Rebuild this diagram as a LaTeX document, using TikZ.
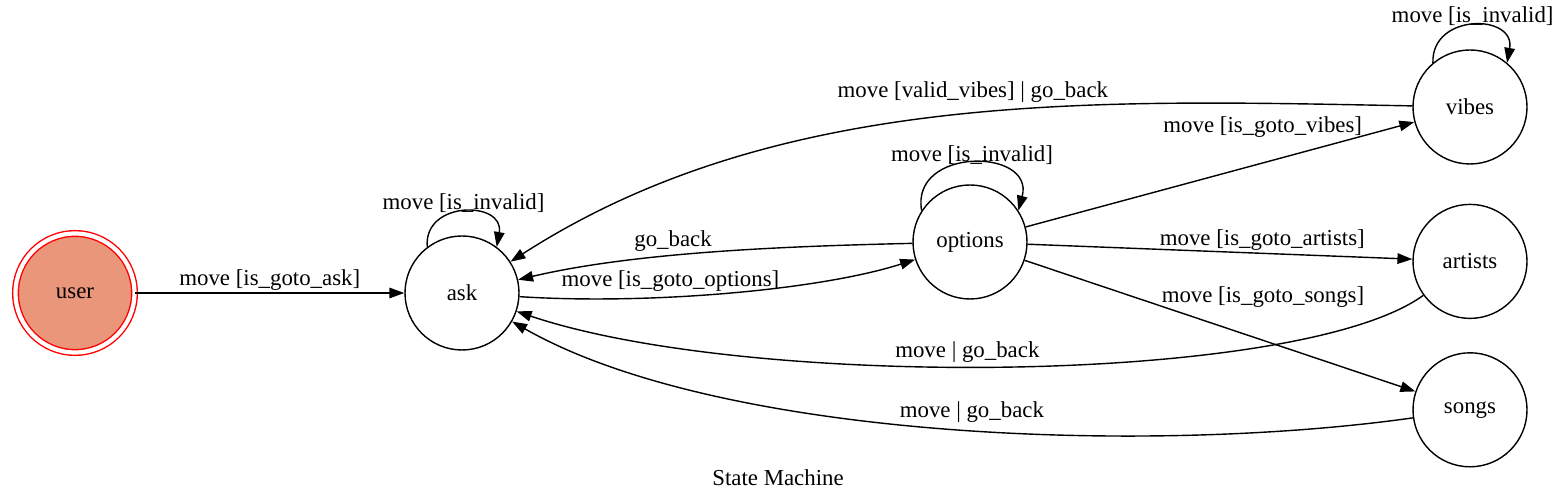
\documentclass[tikz,border=0pt]{standalone}
\usepackage{fontspec}
\setmainfont{Liberation Serif}
\usetikzlibrary{positioning,arrows.meta}
\definecolor{darksalmon}{HTML}{E9967A}

\begin{document}
\begin{tikzpicture}[
  state/.style={circle, draw, minimum size=2.28cm, inner sep=0pt},
  initstate/.style={state, draw=red, fill=darksalmon, double=white,
    double distance=2.4pt, minimum size=2.38cm},
  every node/.style={font=\fontsize{13}{15}\selectfont},
  lbl/.style={inner sep=1pt},
  >={Triangle[length=8.5pt,width=6pt]},
  line width=0.8pt,
]
  \useasboundingbox (0,0) rectangle (31.12,10);

  % States
  \node[initstate] (user) at (1.50,4.14) {user};
  \node[state] (ask) at (9.24,4.14) {ask};
  \node[state] (options) at (19.40,5.16) {options};
  \node[state] (vibes) at (29.40,7.86) {vibes};
  \node[state, below=0.78cm of vibes] (artists) {artists};
  \node[state, below=0.66cm of artists] (songs) {songs};
  \node (title) at (15.56,0.44) {State Machine};

  % Self loops
  \draw[->] (ask.127) to[out=95,in=80,distance=0.94cm] node[lbl,above=-1.5pt]{move [is\_invalid]} (ask.53);
  \draw[->] (options.147) to[out=100,in=75,distance=1.3cm] node[lbl,above=-2pt]{move [is\_invalid]} (options.33);
  \draw[->] (vibes.130) to[out=92,in=80,distance=1cm] node[lbl,above=-1.5pt]{move [is\_invalid]} (vibes.50);

  % Transitions
  \draw[->] (user) -- node[lbl,above]{move [is\_goto\_ask]} (ask);
  \draw[->] (ask) .. controls (13.00,3.90) and (16.40,4.20) .. (options)
    node[lbl,pos=0.36,above=2pt]{move [is\_goto\_options]};
  \draw[->] (options) .. controls (16.00,5.08) and (12.80,4.98) .. (ask)
    node[lbl,pos=0.61,above=1pt]{go\_back};
  \draw[->] (options) -- (vibes) node[lbl,pos=0.61,above=13pt]{move [is\_goto\_vibes]};
  \draw[->] (options) -- (artists) node[lbl,pos=0.61,above=0pt]{move [is\_goto\_artists]};
  \draw[->] (options) -- (songs) node[lbl,pos=0.61,above=17.5pt]{move [is\_goto\_songs]};
  \draw[->] (vibes) .. controls (22.00,8.00) and (15.60,8.24) .. (ask)
    node[lbl,pos=0.47,above=5pt]{move [valid\_vibes] | go\_back};
  \draw[->] (artists) .. controls (26.00,2.30) and (15.00,2.20) .. (ask)
    node[lbl,pos=0.54,above=1.2pt]{move | go\_back};
  \draw[->] (songs) .. controls (23.00,0.90) and (14.40,1.20) .. (ask)
    node[lbl,pos=0.47,above=3.2pt]{move | go\_back};
\end{tikzpicture}
\end{document}
